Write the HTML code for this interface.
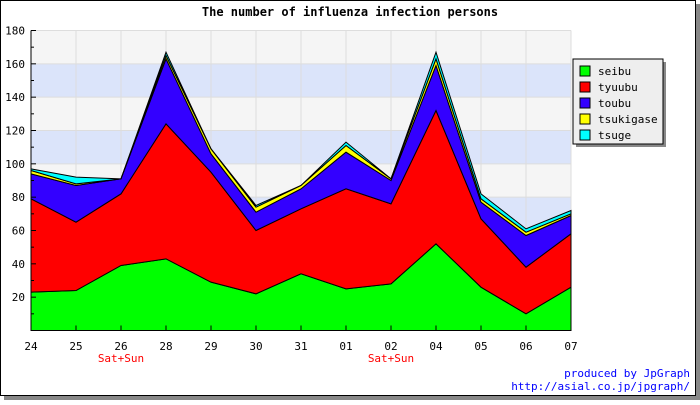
<!DOCTYPE html>
<html><head><meta charset="utf-8"><style>
body{margin:0;background:#fff}
svg text{font-family:"DejaVu Sans Mono","Liberation Mono",monospace}
</style></head><body>
<svg width="700" height="400" xmlns="http://www.w3.org/2000/svg">
<rect x="0" y="0" width="700" height="400" fill="#fff"/>
<rect x="4" y="396" width="696" height="4" fill="#888"/>
<rect x="696" y="4" width="4" height="396" fill="#888"/>
<rect x="0.5" y="0.5" width="695" height="395" fill="#fff" stroke="#000"/>
<text x="350" y="16" text-anchor="middle" font-size="12" font-weight="bold">The number of influenza infection persons</text>
<g id="bands"></g><g id="grid"></g><g id="areas"></g><g id="axes"></g>
<g>
<rect x="576" y="62" width="90" height="85" fill="#888"/>
<rect x="573" y="59" width="90" height="85" fill="#eee" stroke="#000"/>
<g id="legend"></g>
</g>
<text x="690" y="377" text-anchor="end" font-size="11" fill="#00f">produced by JpGraph</text>
<text x="690" y="390" text-anchor="end" font-size="11" fill="#00f">http://asial.co.jp/jpgraph/</text>
</svg>
<script>
const categories=["24","25","26","28","29","30","31","01","02","04","05","06","07"];
const weekendIdx=[2,8];
const seriesNames=["seibu","tyuubu","toubu","tsukigase","tsuge"];
const seibu=[23,24,39,43,29,22,34,25,28,52,26,10,26];
const tyuubu=[56,41,43,81,66,38,39,60,48,80,41,28,32];
const toubu=[15,22,9,39,11,11,12,22,14,27,10,19,11];
const tsukigase=[2,1,0,2,3,3,2,4,1,4,2,2,1];
const tsuge=[1,4,0,2,0,1,0,2,0,4,3,2,2];
const yTicks=[20,40,60,80,100,120,140,160,180];
const colors=["#00ff00","#ff0000","#3300ff","#ffff00","#00ffff"];
const X0=31,X1=571,Y0=330.5,YMAX=180,Ytop=30.5;
const NS="http://www.w3.org/2000/svg";
const xs=i=>X0+(X1-X0)*i/(categories.length-1);
const ys=v=>Y0-(Y0-Ytop)*v/YMAX;
function mk(tag,attrs,parent){const e=document.createElementNS(NS,tag);for(const k in attrs)e.setAttribute(k,attrs[k]);document.getElementById(parent).appendChild(e);return e;}
for(let v=0;v<YMAX;v+=20){
  const b=mk("rect",{x:X0,y:ys(v+20),width:X1-X0,height:ys(v)-ys(v+20),fill:(v/20)%2===0?"#f5f5f5":"#dbe4fa"},"bands");
  
  
}
categories.forEach((c,i)=>{const l=mk("line",{x1:xs(i),x2:xs(i),y1:Ytop,y2:Y0,stroke:"#ddd"},"grid");
  
  });
yTicks.forEach(v=>{const l=mk("line",{x1:X0,x2:X1,y1:ys(v),y2:ys(v),stroke:"#ddd"},"grid");
  
  });
const data=[seibu,tyuubu,toubu,tsukigase,tsuge];
let base=categories.map(()=>0);
data.forEach((s,k)=>{
  const top=base.map((b,i)=>b+s[i]);
  let pts=top.map((v,i)=>xs(i)+","+ys(v));
  for(let i=categories.length-1;i>=0;i--)pts.push(xs(i)+","+ys(base[i]));
  const p=mk("polygon",{points:pts.join(" "),fill:colors[k],stroke:"#000","stroke-width":1},"areas");
  
  
  base=top;
});
let ax=mk("line",{x1:X0,x2:X0,y1:Ytop,y2:Y0,stroke:"#000"},"axes");


ax=mk("line",{x1:X0,x2:X1,y1:Y0,y2:Y0,stroke:"#000"},"axes");


yTicks.forEach(v=>{
  const t=mk("text",{x:X0-6,y:ys(v)+4,"text-anchor":"end","font-size":11},"axes");t.textContent=v;
  
  
  mk("line",{x1:X0,x2:X0+5,y1:ys(v),y2:ys(v),stroke:"#000"},"axes");
  mk("line",{x1:X0,x2:X0+3,y1:ys(v-10),y2:ys(v-10),stroke:"#000"},"axes");
});
categories.forEach((c,i)=>{
  const t=mk("text",{x:xs(i),y:350,"text-anchor":"middle","font-size":11},"axes");t.textContent=c;
  
  
  mk("line",{x1:xs(i),x2:xs(i),y1:Y0,y2:Y0-5,stroke:"#000"},"axes");
});
weekendIdx.forEach(i=>{
  const t=mk("text",{x:xs(i),y:362,"text-anchor":"middle","font-size":11,fill:"#f00"},"axes");t.textContent="Sat+Sun";
  
  
});
seriesNames.forEach((n,k)=>{
  const y=66+k*16;
  const r=mk("rect",{x:580,y:y,width:10,height:10,fill:colors[k],stroke:"#000"},"legend");
  
  
  const t=mk("text",{x:598,y:y+9,"font-size":11},"legend");t.textContent=n;
  
  
});
</script>
</body></html>
